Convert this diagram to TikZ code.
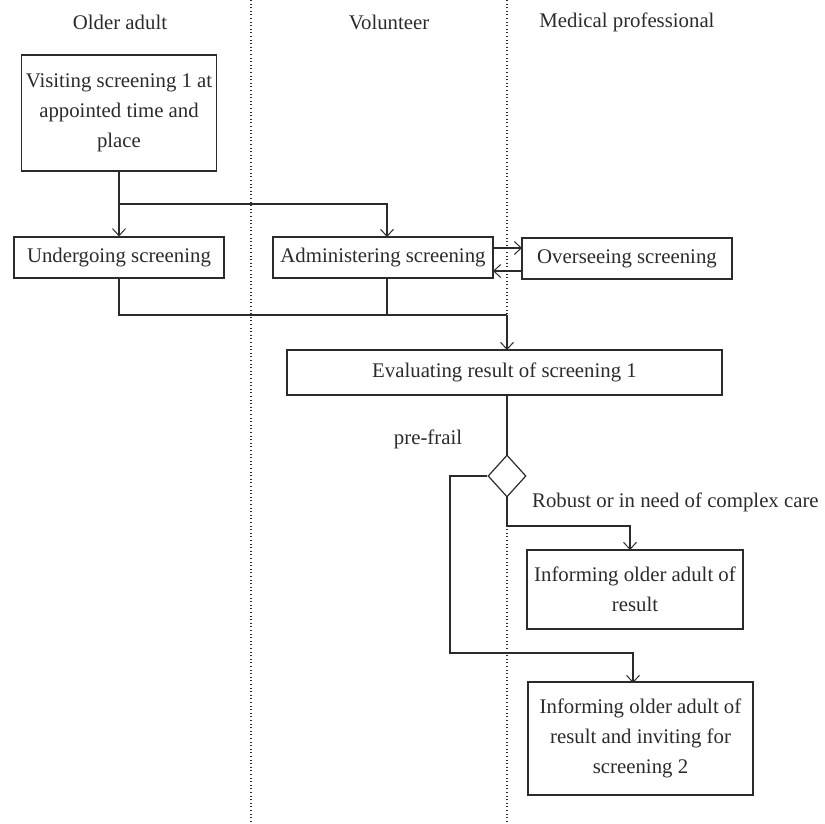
\documentclass[tikz,border=0pt]{standalone}
\usepackage{fontspec}
\setmainfont{Liberation Serif}
\usetikzlibrary{arrows.meta,shapes.geometric,calc}
\definecolor{ink}{HTML}{2B2B2B}
\tikzset{
  box/.style={draw=ink, fill=white, line width=1.2pt, rectangle, inner sep=0pt, align=center, text=ink, font=\fontsize{20.8}{30}\selectfont},
  lbl/.style={text=ink, font=\fontsize{20.8}{30}\selectfont, inner sep=0pt},
  conn/.style={draw=ink, line width=1.2pt},
  arr/.style={conn, -{Straight Barb[length=7pt,width=13pt,line width=1pt]}},
  lane/.style={draw=ink, line width=1.1pt, dash pattern=on 1pt off 2.6pt},
  dia/.style={draw=ink, fill=white, line width=1.2pt, diamond, minimum width=38pt, minimum height=42pt, inner sep=0pt}
}
\begin{document}
\begin{tikzpicture}[x=1pt,y=-1pt]
\useasboundingbox (0,0) rectangle (825,824);
% lanes
\coordinate (l1t) at (251,0); \coordinate (l1b) at (251,824);
\coordinate (l2t) at (507,0); \coordinate (l2b) at (507,824);
\draw[lane] (l1t) -- (l1b);
\draw[lane] (l2t) -- (l2b);
% headers
\node[lbl] (h1) at (120,22) {Older adult};
\node[lbl] (h2) at (389,22) {Volunteer};
\node[lbl] (h3) at (627,22) {Medical professional};
% connector coordinates
\coordinate (j1) at (119,204);
\coordinate (admtop) at (387,237);
\coordinate (j2) at (119,315);
\coordinate (admbot) at (387,278);
\coordinate (j3) at (507,315);
\coordinate (evtop) at (507,350);
\coordinate (a1s) at (493,248); \coordinate (a1e) at (522,248);
\coordinate (a2s) at (522,271); \coordinate (a2e) at (493,271);
\coordinate (r1) at (507,526);
\coordinate (inf1top) at (630,550);
\coordinate (p1) at (450,476);
\coordinate (p2) at (450,653);
\coordinate (inf2top) at (633,683);
% boxes
\node[box, minimum width=195pt, minimum height=116pt] (v1) at (119,113) {Visiting screening 1 at\\appointed time and\\place};
\node[box, minimum width=210pt, minimum height=41pt] (und) at (119,257.5) {Undergoing screening};
\node[box, minimum width=220pt, minimum height=41pt] (adm) at (383,257.5) {Administering screening};
\node[box, minimum width=210pt, minimum height=41pt] (ovs) at (627,258.5) {Overseeing screening};
\node[box, minimum width=435pt, minimum height=45pt] (eval) at (504.5,372.5) {Evaluating result of screening 1};
\node[dia] (d) at (507,476) {};
\node[box, minimum width=216pt, minimum height=79pt] (inf1) at (635,589.5) {Informing older adult of\\result};
\node[box, minimum width=225pt, minimum height=113pt] (inf2) at (640.5,738.5) {Informing older adult of\\result and inviting for\\screening 2};
% labels
\node[lbl] (pf) at (428,439) {pre-frail};
\node[lbl, anchor=west] (rb) at (532,502) {Robust or in need of complex care};
% connectors
\draw[arr] (v1.south) -- (und.north);
\draw[arr] (j1) -| (admtop);
\draw[conn] (und.south) -- (j2) -- (j3);
\draw[conn] (admbot) -- (admbot |- j2);
\draw[arr] (j3) -- (evtop);
\draw[arr] (a1s) -- (a1e);
\draw[arr] (a2s) -- (a2e);
\draw[conn] (d.north |- eval.south) -- (d.north);
\draw[arr] (d.south) -- (r1) -| (inf1top);
\draw[arr] (d.west) -- (p1) -- (p2) -| (inf2top);
\end{tikzpicture}
\end{document}
